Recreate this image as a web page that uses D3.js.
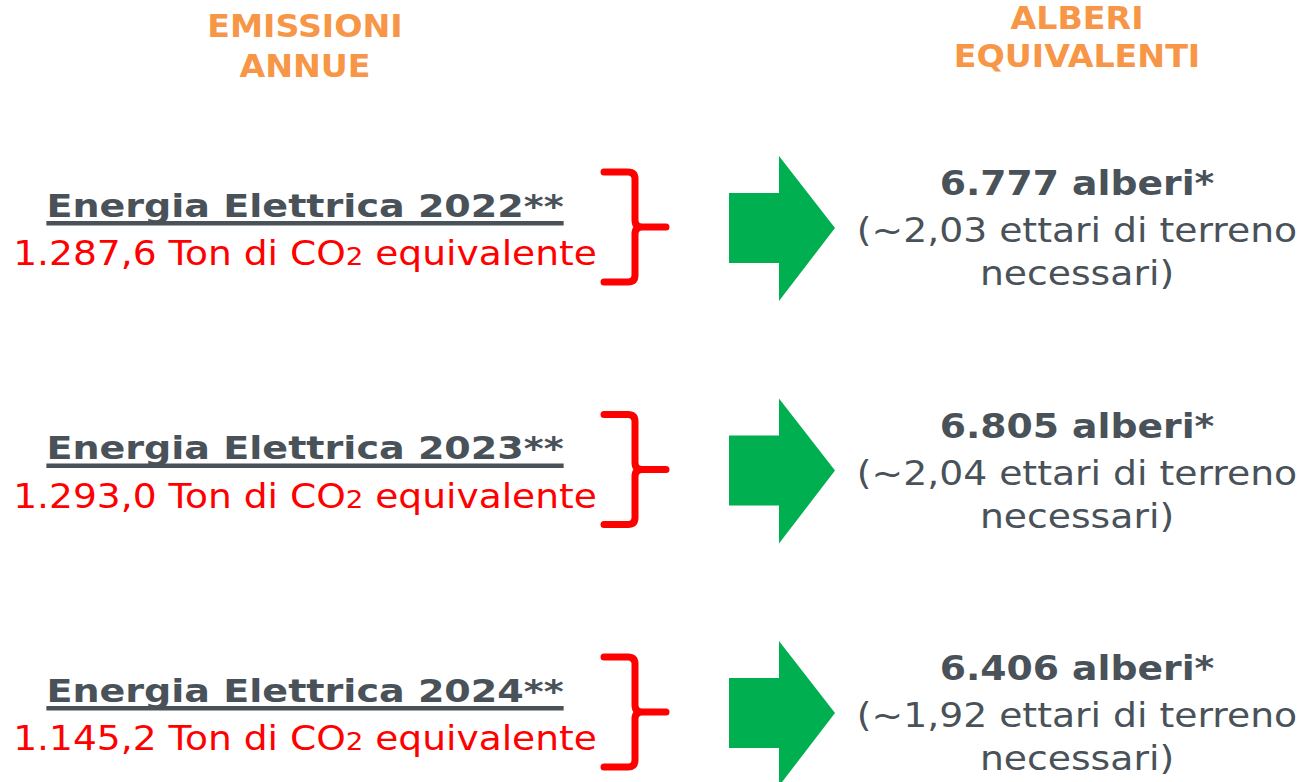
<!DOCTYPE html>
<html>
<head>
<meta charset="utf-8">
<script src="https://cdn.jsdelivr.net/npm/d3@7"></script>
<style>
  html, body { margin: 0; padding: 0; background: #fff; }
  svg { display: block; font-family: "DejaVu Sans", Verdana, sans-serif; }
</style>
</head>
<body>
<svg id="chart" width="1303" height="782"></svg>
<script>
// rows of the infographic
const years = ["2022", "2023", "2024"];
const emissions = ["1.287,6", "1.293,0", "1.145,2"];
const trees = ["6.777", "6.805", "6.406"];
const hectares = ["2,03", "2,04", "1,92"];
const headersLeft = ["EMISSIONI", "ANNUE"];
const headersRight = ["ALBERI", "EQUIVALENTI"];

const rows = years.map((y, i) => ({
  year: y,
  emission: emissions[i],
  trees: trees[i],
  hectares: hectares[i]
}));

const svg = d3.select("#chart");

const GRAY = "#495159";
const ORANGE = "#f79646";
const RED = "#ff0000";
const GREEN = "#00b050";

// layout columns
const leftX = 305;
const braceX = 635;
const arrowX = 729;
const rightX = 1077;

// the source text is a bit wider than DejaVu, stretch horizontally
const stretch = { head: 1.04, title: 1.19, em: 1.105, right: 1.11 };

// row centre line
const yScale = d3.scalePoint().domain(years).range([228, 713]);

// helper: a text group anchored at (x,y) and stretched in x
function stretched(sel, x, y, s) {
  return sel.append("g").attr("transform", `translate(${x},${y}) scale(${s},1)`);
}

// ─────────────────────────────────────
// HEADERS
// ─────────────────────────────────────
const headG = svg.append("g")
  .attr("fill", ORANGE)
  .attr("font-weight", "bold")
  .attr("font-size", 32)
  .attr("text-anchor", "middle");

headersLeft.forEach((t, i) => {
  stretched(headG, leftX, 37 + i * 40, stretch.head).append("text").text(t);
});
headersRight.forEach((t, i) => {
  stretched(headG, rightX, 29 + i * 38, stretch.head).append("text").text(t);
});

// ─────────────────────────────────────
// ROWS
// ─────────────────────────────────────
const rowG = svg.selectAll("g.row")
  .data(rows)
  .join("g")
  .attr("class", "row")
  .attr("transform", (d) => `translate(0,${yScale(d.year)})`);

rowG.each(function (d) {
  // left title (bold, underlined)
  const g = stretched(d3.select(this), leftX, 0, stretch.title);
  const t = g.append("text")
    .attr("y", -11.5)
    .attr("text-anchor", "middle")
    .attr("font-weight", "bold")
    .attr("font-size", 32)
    .attr("fill", GRAY)
    .text(`Energia Elettrica ${d.year}**`);
  const bb = t.node().getBBox();
  g.append("rect")
    .attr("x", bb.x)
    .attr("y", -7)
    .attr("width", bb.width)
    .attr("height", 4.5)
    .attr("fill", GRAY);

  // red emission line
  const em = stretched(d3.select(this), leftX, 37, stretch.em)
    .append("text")
    .attr("text-anchor", "middle")
    .attr("font-size", 34)
    .attr("fill", RED);
  em.append("tspan").text(`${d.emission} Ton di CO`);
  em.append("tspan").attr("font-size", 25).text("2");
  em.append("tspan").text(" equivalente");

  // right column text
  const r = d3.select(this).append("g")
    .attr("fill", GRAY)
    .attr("font-size", 34)
    .attr("text-anchor", "middle");
  stretched(r, rightX, -33, stretch.right).append("text")
    .attr("font-weight", "bold")
    .text(`${d.trees} alberi*`);
  stretched(r, rightX, 14, stretch.right).append("text")
    .text(`(~${d.hectares} ettari di terreno`);
  stretched(r, rightX, 57, stretch.right).append("text")
    .text("necessari)");
});

// brace
const brace = d3.path();
const bx = braceX;
brace.moveTo(bx - 31, -56);
brace.lineTo(bx - 7, -56);
brace.quadraticCurveTo(bx, -56, bx, -49);
brace.lineTo(bx, -8);
brace.quadraticCurveTo(bx, -1, bx + 7, -1);
brace.lineTo(bx + 31, -1);
brace.moveTo(bx + 7, -1);
brace.quadraticCurveTo(bx, -1, bx, 6);
brace.lineTo(bx, 47);
brace.quadraticCurveTo(bx, 54, bx - 7, 54);
brace.lineTo(bx - 31, 54);

rowG.append("path")
  .attr("d", brace.toString())
  .attr("fill", "none")
  .attr("stroke", RED)
  .attr("stroke-width", 7)
  .attr("stroke-linecap", "round")
  .attr("stroke-linejoin", "round");

// green arrow
const arrow = d3.line()([
  [arrowX, -35], [arrowX + 50, -35], [arrowX + 50, -72],
  [arrowX + 106, 0],
  [arrowX + 50, 73], [arrowX + 50, 35], [arrowX, 35]
]) + "Z";

rowG.append("path")
  .attr("d", arrow)
  .attr("fill", GREEN);
</script>
</body>
</html>
